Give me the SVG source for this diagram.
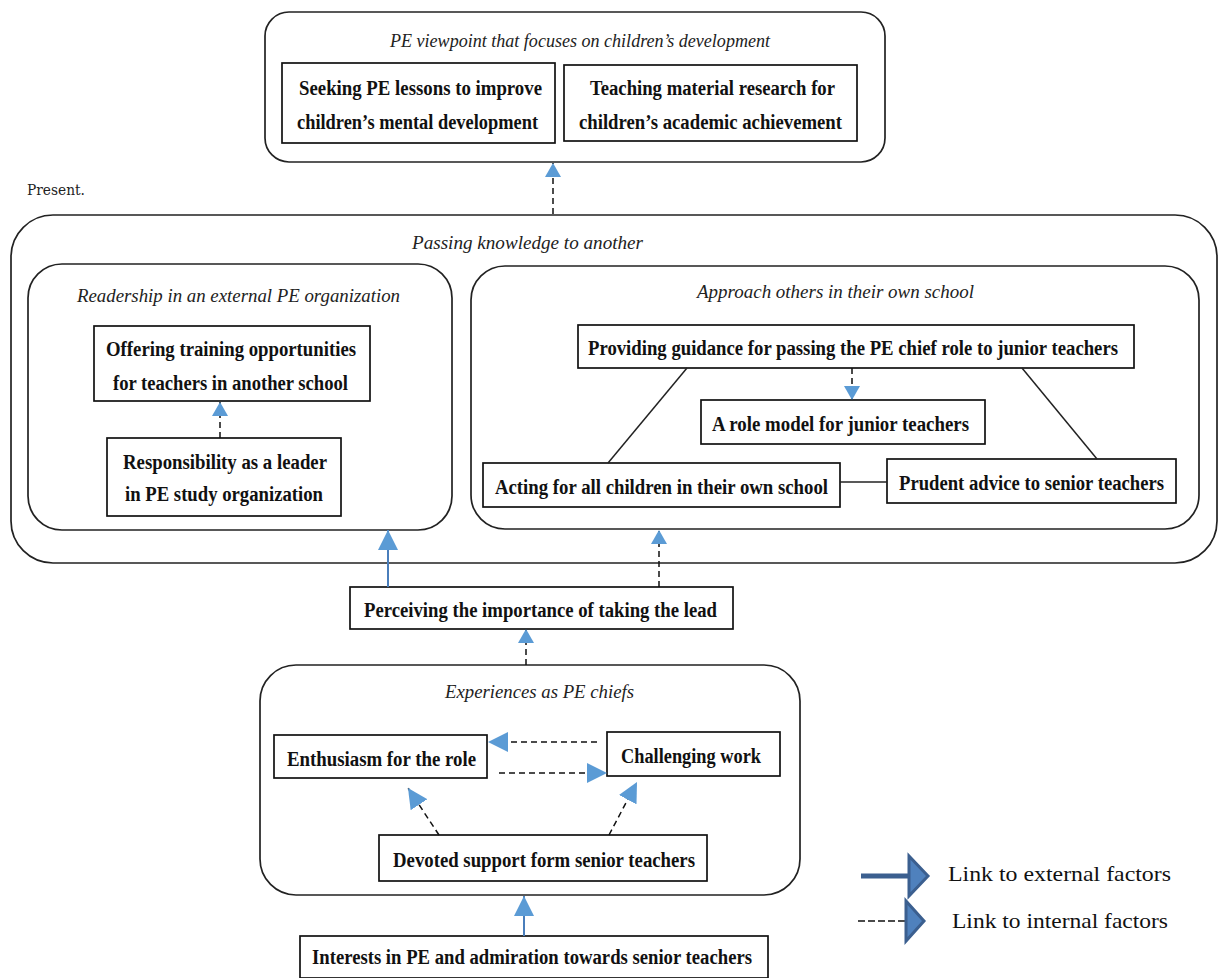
<svg xmlns="http://www.w3.org/2000/svg" width="1220" height="978" viewBox="0 0 1220 978">
<defs>
<style>
.grp{fill:none;stroke:#222;stroke-width:1.7}
.box{fill:#fff;stroke:#111;stroke-width:1.7}
.t{font-family:"Liberation Serif","Times New Roman",serif;font-weight:bold;font-size:20.5px;fill:#111}
.it{font-family:"Liberation Serif","Times New Roman",serif;font-style:italic;font-size:19px;fill:#222}
.lg{font-family:"Liberation Serif","Times New Roman",serif;font-size:21px;fill:#111}
.dash{fill:none;stroke:#111;stroke-width:1.5;stroke-dasharray:6 4}
.solid{fill:none;stroke:#4A7EBB;stroke-width:2}
.plain{fill:none;stroke:#222;stroke-width:1.5}
</style>
<marker id="ah" viewBox="0 0 14 16" refX="14" refY="8" markerWidth="14" markerHeight="16" markerUnits="userSpaceOnUse" orient="auto">
<path d="M0,0 L14,8 L0,16 Z" fill="#5B9BD5" stroke="none"/>
</marker>
<marker id="ahb" viewBox="0 0 20 20" refX="20" refY="10" markerWidth="20" markerHeight="20" markerUnits="userSpaceOnUse" orient="auto">
<path d="M0,0 L20,10 L0,20 Z" fill="#5B9BD5" stroke="none"/>
</marker>
</defs>
<rect width="1220" height="978" fill="#fff"/>

<g id="present-label">
<text x="27" y="195" font-family="'DejaVu Serif',serif" font-size="14" fill="#222" textLength="58" lengthAdjust="spacingAndGlyphs">Present.</text>
</g>

<g id="group-viewpoint">
<rect class="grp" x="265" y="12" width="620" height="150" rx="24"/>
<text class="it" x="390" y="47" textLength="380" lengthAdjust="spacingAndGlyphs">PE viewpoint that focuses on children’s development</text>
</g>
<g id="node-seeking">
<rect class="box" x="282" y="63" width="273" height="80"/>
<text class="t" x="299" y="95" textLength="243" lengthAdjust="spacingAndGlyphs">Seeking PE lessons to improve</text>
<text class="t" x="297" y="129" textLength="241" lengthAdjust="spacingAndGlyphs">children’s mental development</text>
</g>
<g id="node-teaching">
<rect class="box" x="564" y="65" width="293" height="76"/>
<text class="t" x="590" y="95" textLength="245" lengthAdjust="spacingAndGlyphs">Teaching material research for</text>
<text class="t" x="579" y="129" textLength="263" lengthAdjust="spacingAndGlyphs">children’s academic achievement</text>
</g>

<g id="group-passing">
<rect class="grp" x="11" y="215" width="1206" height="348" rx="42"/>
<text class="it" x="412" y="249" textLength="231" lengthAdjust="spacingAndGlyphs">Passing knowledge to another</text>
</g>
<g id="group-readership">
<rect class="grp" x="28" y="264" width="424" height="266" rx="34"/>
<text class="it" x="77" y="302" textLength="323" lengthAdjust="spacingAndGlyphs">Readership in an external PE organization</text>
</g>
<g id="node-offering">
<rect class="box" x="94" y="326" width="276" height="75"/>
<text class="t" x="106" y="356" textLength="250" lengthAdjust="spacingAndGlyphs">Offering training opportunities</text>
<text class="t" x="113" y="390" textLength="235" lengthAdjust="spacingAndGlyphs">for teachers in another school</text>
</g>
<g id="node-responsibility">
<rect class="box" x="107" y="438" width="234" height="78"/>
<text class="t" x="123" y="469" textLength="204" lengthAdjust="spacingAndGlyphs">Responsibility as a leader</text>
<text class="t" x="125" y="501" textLength="198" lengthAdjust="spacingAndGlyphs">in PE study organization</text>
</g>
<g id="group-approach">
<rect class="grp" x="471" y="266" width="728" height="263" rx="34"/>
<text class="it" x="697" y="298" textLength="277" lengthAdjust="spacingAndGlyphs">Approach others in their own school</text>
</g>
<g id="node-providing">
<rect class="box" x="578" y="325" width="556" height="43"/>
<text class="t" x="588" y="355" textLength="530" lengthAdjust="spacingAndGlyphs">Providing guidance for passing the PE chief role to junior teachers</text>
</g>
<g id="node-rolemodel">
<rect class="box" x="701" y="400" width="284" height="44"/>
<text class="t" x="712" y="431" textLength="257" lengthAdjust="spacingAndGlyphs">A role model for junior teachers</text>
</g>
<g id="node-acting">
<rect class="box" x="483" y="463" width="357" height="44"/>
<text class="t" x="495" y="494" textLength="333" lengthAdjust="spacingAndGlyphs">Acting for all children in their own school</text>
</g>
<g id="node-prudent">
<rect class="box" x="887" y="459" width="289" height="44"/>
<text class="t" x="899" y="490" textLength="265" lengthAdjust="spacingAndGlyphs">Prudent advice to senior teachers</text>
</g>

<g id="node-perceiving">
<rect class="box" x="350" y="587" width="383" height="42"/>
<text class="t" x="364" y="617" textLength="353" lengthAdjust="spacingAndGlyphs">Perceiving the importance of taking the lead</text>
</g>

<g id="group-experiences">
<rect class="grp" x="260" y="665" width="540" height="230" rx="36"/>
<text class="it" x="445" y="698" textLength="189" lengthAdjust="spacingAndGlyphs">Experiences as PE chiefs</text>
</g>
<g id="node-enthusiasm">
<rect class="box" x="274" y="735" width="213" height="43"/>
<text class="t" x="287" y="766" textLength="189" lengthAdjust="spacingAndGlyphs">Enthusiasm for the role</text>
</g>
<g id="node-challenging">
<rect class="box" x="607" y="732" width="173" height="44"/>
<text class="t" x="621" y="763" textLength="140" lengthAdjust="spacingAndGlyphs">Challenging work</text>
</g>
<g id="node-devoted">
<rect class="box" x="379" y="835" width="328" height="46"/>
<text class="t" x="393" y="867" textLength="302" lengthAdjust="spacingAndGlyphs">Devoted support form senior teachers</text>
</g>
<g id="node-interests">
<rect class="box" x="300" y="936" width="468" height="42"/>
<text class="t" x="312" y="964" textLength="440" lengthAdjust="spacingAndGlyphs">Interests in PE and admiration towards senior teachers</text>
</g>

<g id="connectors">
<line class="dash" x1="553" y1="214" x2="553" y2="163" marker-end="url(#ah)"/>
<line class="dash" x1="220" y1="438" x2="220" y2="402" marker-end="url(#ah)"/>
<line class="solid" x1="388" y1="587" x2="388" y2="530" marker-end="url(#ahb)"/>
<line class="dash" x1="659" y1="587" x2="659" y2="530" marker-end="url(#ah)"/>
<line class="dash" x1="526" y1="665" x2="526" y2="629" marker-end="url(#ah)"/>
<line class="solid" x1="524" y1="936" x2="524" y2="896" marker-end="url(#ahb)"/>
<line class="dash" x1="852" y1="368" x2="852" y2="400" marker-end="url(#ah)"/>
<line class="dash" x1="597" y1="742" x2="488" y2="742" marker-end="url(#ahb)"/>
<line class="dash" x1="499" y1="773" x2="607" y2="773" marker-end="url(#ahb)"/>
<line class="dash" x1="439" y1="835" x2="408" y2="788" marker-end="url(#ahb)"/>
<line class="dash" x1="609" y1="835" x2="637" y2="782" marker-end="url(#ahb)"/>
<line class="plain" x1="687" y1="368" x2="608" y2="463"/>
<line class="plain" x1="1022" y1="368" x2="1097" y2="459"/>
<line class="plain" x1="840" y1="482" x2="887" y2="482"/>
</g>

<g id="legend">
<line x1="861" y1="876" x2="909" y2="876" stroke="#3B5F8F" stroke-width="5"/>
<polygon points="909,856 928,876 909,896" fill="#4F81BD" stroke="#3B5F8F" stroke-width="3"/>
<text class="lg" x="948" y="881" textLength="223" lengthAdjust="spacingAndGlyphs">Link to external factors</text>
<line x1="858" y1="921" x2="905" y2="921" stroke="#111" stroke-width="1.5" stroke-dasharray="7 3"/>
<polygon points="906,901 924,921 906,941" fill="#4F81BD" stroke="#3B5F8F" stroke-width="3"/>
<text class="lg" x="952" y="928" textLength="216" lengthAdjust="spacingAndGlyphs">Link to internal factors</text>
</g>
</svg>
